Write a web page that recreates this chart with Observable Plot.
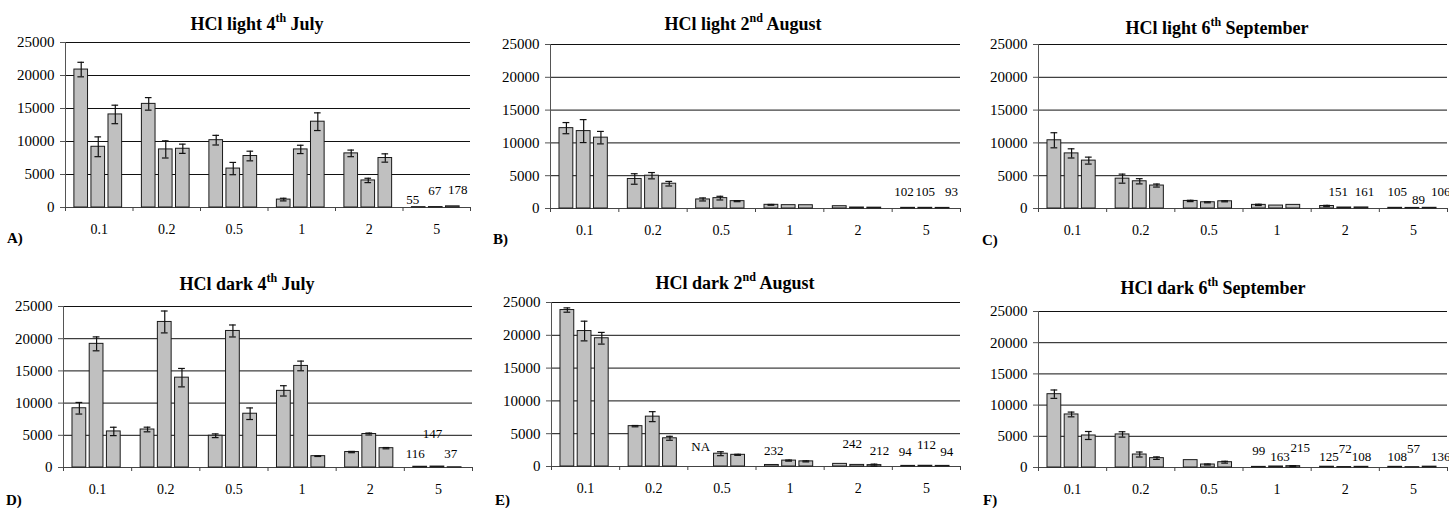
<!DOCTYPE html>
<html>
<head>
<meta charset="utf-8">
<script src="https://cdn.jsdelivr.net/npm/d3@7"></script>
<script src="https://cdn.jsdelivr.net/npm/@observablehq/plot@0.6"></script>
<style>
  html, body { margin: 0; padding: 0; background: white; }
  #root { position: relative; width: 1449px; height: 508px; background: white; font-family: "Liberation Serif", "Times New Roman", serif; color: black; overflow: hidden; }
  .panel { position: absolute; }
  .panel svg { position: absolute; left: 0; top: 0; }
  .title { position: absolute; width: 400px; text-align: center; font-weight: bold; font-size: 18px; line-height: 18px; white-space: nowrap; }
  .title sup { font-size: 12px; vertical-align: 8px; line-height: 0; }
  .letter { position: absolute; font-weight: bold; font-size: 15px; line-height: 15px; }
</style>
</head>
<body>
<div id="root"></div>
<script>
// ---------- data ----------
const cats = ["0.1", "0.2", "0.5", "1", "2", "5"];
const yTicks = [0, 5000, 10000, 15000, 20000, 25000];

// A) HCl light 4th July
const meansA = [[20900, 9200, 14100], [15700, 8800, 8900], [10200, 5900, 7800], [1200, 8800, 13000], [8200, 4100, 7500], [55, 67, 178]];
const errsA  = [[1100, 1500, 1400], [950, 1300, 700], [730, 930, 730], [200, 630, 1340], [500, 330, 630], [0, 0, 0]];
const labelsA = [["5", 0, "55"], ["5", 1, "67"], ["5", 2, "178"]];

// B) HCl light 2nd August
const meansB = [[12250, 11800, 10800], [4500, 5000, 3780], [1380, 1580, 1120], [560, 510, 500], [350, 150, 130], [102, 105, 93]];
const errsB  = [[850, 1750, 950], [800, 480, 350], [230, 280, 80], [60, 0, 0], [0, 0, 0], [0, 0, 0]];
const labelsB = [["5", 0, "102"], ["5", 1, "105"], ["5", 2, "93"]];

// C) HCl light 6th September
const meansC = [[10400, 8400, 7300], [4550, 4150, 3500], [1150, 950, 1100], [550, 450, 550], [380, 151, 161], [105, 89, 106]];
const errsC  = [[1150, 700, 530], [690, 400, 230], [100, 80, 80], [100, 0, 0], [100, 0, 0], [0, 0, 0]];
const labelsC = [["2", 1, "151"], ["2", 2, "161"], ["5", 0, "105"], ["5", 1, "89"], ["5", 2, "106"]];

// D) HCl dark 4th July
const meansD = [[9200, 19200, 5600], [5900, 22600, 13950], [4930, 21200, 8350], [11900, 15770, 1760], [2400, 5200, 3000], [116, 147, 37]];
const errsD  = [[900, 1080, 650], [360, 1700, 1430], [290, 930, 900], [800, 750, 50], [100, 150, 100], [0, 0, 0]];
const labelsD = [["5", 0, "116"], ["5", 1, "147"], ["5", 2, "37"]];

// E) HCl dark 2nd August
const meansE = [[23850, 20650, 19550], [6150, 7600, 4300], [null, 1950, 1780], [232, 900, 780], [400, 242, 212], [94, 112, 94]];
const errsE  = [[330, 1500, 890], [100, 760, 300], [0, 300, 80], [0, 80, 80], [0, 0, 150], [0, 0, 0]];
const labelsE = [["0.5", 0, "NA"], ["1", 0, "232"], ["2", 1, "242"], ["2", 2, "212"], ["5", 0, "94"], ["5", 1, "112"], ["5", 2, "94"]];

// F) HCl dark 6th September
const meansF = [[11750, 8500, 5130], [5300, 2080, 1500], [1180, 480, 850], [99, 163, 215], [125, 72, 108], [108, 57, 136]];
const errsF  = [[670, 380, 640], [430, 400, 200], [0, 80, 150], [0, 0, 80], [0, 0, 0], [0, 0, 0]];
const labelsF = [["1", 0, "99"], ["1", 1, "163"], ["1", 2, "215"], ["2", 0, "125"], ["2", 1, "72"], ["2", 2, "108"], ["5", 0, "108"], ["5", 1, "57"], ["5", 2, "136"]];

// ---------- layout (positions / styles only) ----------
const nudgesA = [[-6, -7], [-1, -16], [5, -16]];
const nudgesB = [[-4, -16], [0, -16], [9, -16]];
const nudgesC = [[-6, -16], [3, -16], [2, -16], [6, -8], [11, -16]];
const nudgesD = [[-5, -13], [-5, -33], [-4, -13]];
const nudgesE = [[-3, -20], [2, -14], [-5, -21], [5, -14], [-3, -14], [1, -21], [4, -14]];
const nudgesF = [[0, -16], [4, -10], [7, -18], [2, -10], [1, -18], [0, -10], [2, -10], [1, -18], [11, -10]];

const panels = [
  {letter: "A)", title: ["HCl light 4", "th", " July"], means: meansA, errs: errsA, labels: labelsA, nudges: nudgesA,
   L: 65, R: 470, T: 42, B: 207, tx: 257, tb: 30, lx: 7, lb: 243},
  {letter: "B)", title: ["HCl light 2", "nd", " August"], means: meansB, errs: errsB, labels: labelsB, nudges: nudgesB,
   L: 550, R: 960, T: 44, B: 208, tx: 743, tb: 30, lx: 493, lb: 244},
  {letter: "C)", title: ["HCl light 6", "th", " September"], means: meansC, errs: errsC, labels: labelsC, nudges: nudgesC,
   L: 1038, R: 1447, T: 44, B: 208, tx: 1217, tb: 34, lx: 982, lb: 245},
  {letter: "D)", title: ["HCl dark 4", "th", " July"], means: meansD, errs: errsD, labels: labelsD, nudges: nudgesD,
   L: 63, R: 472, T: 306, B: 467, tx: 247, tb: 290, lx: 6, lb: 505},
  {letter: "E)", title: ["HCl dark 2", "nd", " August"], means: meansE, errs: errsE, labels: labelsE, nudges: nudgesE,
   L: 551, R: 960, T: 302, B: 466, tx: 735, tb: 289, lx: 495, lb: 505},
  {letter: "F)", title: ["HCl dark 6", "th", " September"], means: meansF, errs: errsF, labels: labelsF, nudges: nudgesF,
   L: 1038, R: 1447, T: 311, B: 467, tx: 1213, tb: 294, lx: 983, lb: 505}
];

const mL = 60, mR = 2, mT = 10, mB = 35;
const root = document.getElementById("root");
const svgStyle = {fontFamily: "'Liberation Serif', 'Times New Roman', serif", fontSize: "15px", background: "transparent", overflow: "visible", color: "black"};

for (const p of panels) {
  const width = p.R - p.L + mL + mR;
  const height = p.B - p.T + mT + mB;
  const div = document.createElement("div");
  div.className = "panel";
  div.style.left = (p.L - mL) + "px";
  div.style.top = (p.T - mT) + "px";
  div.style.width = width + "px";
  div.style.height = height + "px";
  root.appendChild(div);

  // axes, grid and category ticks
  const deco = Plot.plot({
    width, height, marginLeft: mL, marginRight: mR, marginTop: mT, marginBottom: mB,
    style: svgStyle,
    x: {type: "linear", domain: [0, cats.length], axis: null},
    y: {domain: [0, 25000], axis: null},
    marks: [
      Plot.ruleY(yTicks.filter(v => v > 0), {stroke: "#111", strokeWidth: 1}),
      Plot.ruleY([0], {stroke: "#444", strokeWidth: 1}),
      Plot.ruleX([0], {stroke: "#555", strokeWidth: 1}),
      Plot.axisY({ticks: yTicks, tickSize: 5, tickPadding: 6, tickFormat: d3.format("d"), stroke: "#555", fontSize: 15}),
      Plot.axisX({ticks: d3.range(cats.length + 1), tickSize: 4, tickFormat: () => "", stroke: "#444"}),
      Plot.axisX({ticks: cats.map((c, i) => i + 0.5), tickSize: 0, tickPadding: 17, tickFormat: d => cats[Math.floor(d)], fontSize: 14})
    ]
  });
  div.appendChild(deco);

  // bars
  const rows = cats.flatMap((c, i) => p.means[i].map((v, j) => ({cat: c, s: j, v, e: p.errs[i][j]}))).filter(d => d.v != null);
  const errRows = rows.filter(d => d.e > 0);
  const valueOf = (c, s) => { const v = p.means[cats.indexOf(c)][s]; return v == null ? 0 : v; };

  const labelMarks = p.labels.map((lab, k) => Plot.text([lab], {
    fx: d => d[0], x: d => d[1], y: d => valueOf(d[0], d[1]), text: d => d[2],
    dx: p.nudges[k][0], dy: p.nudges[k][1], fontSize: 13, fill: "black"
  }));

  const bars = Plot.plot({
    width, height, marginLeft: mL, marginRight: mR, marginTop: mT, marginBottom: mB,
    style: svgStyle,
    fx: {domain: cats, padding: 0, round: false, axis: null, label: null},
    x: {type: "band", domain: [0, 1, 2], paddingInner: 0.2, paddingOuter: 0.58, align: 0.45, round: false, axis: null, label: null},
    y: {domain: [0, 25000], axis: null},
    marks: [
      Plot.barY(rows, {fx: "cat", x: "s", y: "v", fill: "#c0c0c0", stroke: "#1a1a1a", strokeWidth: 1}),
      Plot.ruleX(errRows, {fx: "cat", x: "s", y1: d => d.v - d.e, y2: d => d.v + d.e, stroke: "#111", strokeWidth: 1.2}),
      Plot.tickY(errRows, {fx: "cat", x: "s", y: d => d.v + d.e, stroke: "#111", strokeWidth: 1.2, inset: 3.5}),
      Plot.tickY(errRows, {fx: "cat", x: "s", y: d => d.v - d.e, stroke: "#111", strokeWidth: 1.2, inset: 3.5}),
      ...labelMarks
    ]
  });
  div.appendChild(bars);

  // title
  const t = document.createElement("div");
  t.className = "title";
  t.style.left = (p.tx - 200) + "px";
  t.style.top = (p.tb - 15) + "px";
  t.innerHTML = p.title[0] + "<sup>" + p.title[1] + "</sup>" + p.title[2];
  root.appendChild(t);

  // panel letter
  const l = document.createElement("div");
  l.className = "letter";
  l.style.left = p.lx + "px";
  l.style.top = (p.lb - 12) + "px";
  l.textContent = p.letter;
  root.appendChild(l);
}
</script>
</body>
</html>
